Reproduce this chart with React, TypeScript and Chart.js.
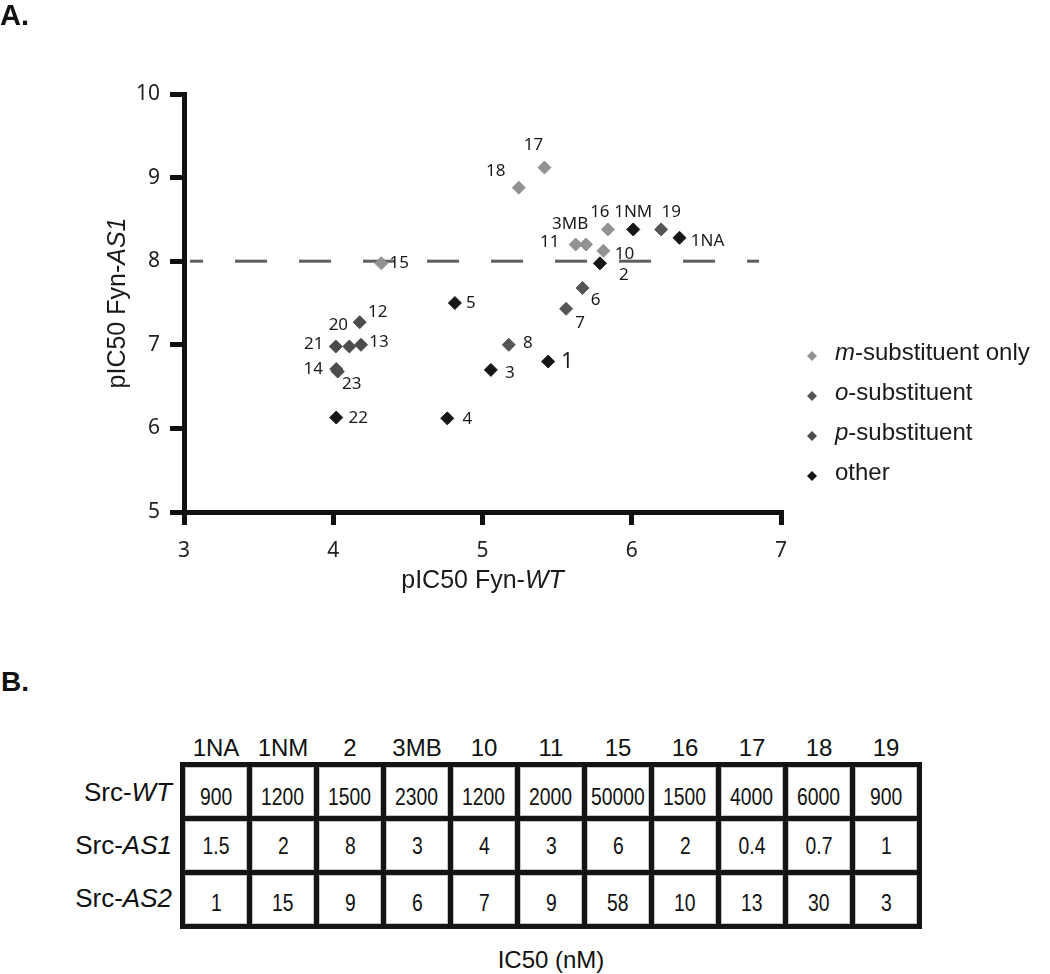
import React, { useEffect, useRef } from "react";
import { Chart, registerables } from "chart.js";

Chart.register(...registerables);

// ---- Data ----
const mLabels = ["17", "18", "16", "11", "3MB", "10", "15"];
const mX = [5.415, 5.243, 5.84, 5.624, 5.694, 5.81, 4.322];
const mY = [9.12, 8.88, 8.38, 8.2, 8.2, 8.125, 7.975];

const oLabels = ["19", "6", "7", "8"];
const oX = [6.197, 5.67, 5.56, 5.176];
const oY = [8.38, 7.68, 7.43, 7.0];

const pLabels = ["12", "20", "21", "13", "14", "23"];
const pX = [4.177, 4.108, 4.017, 4.186, 4.02, 4.03];
const pY = [7.27, 6.98, 6.98, 7.0, 6.71, 6.68];

const otherLabels = ["1NM", "1NA", "2", "5", "1", "3", "4", "22"];
const otherX = [6.01, 6.32, 5.787, 4.815, 5.44, 5.056, 4.764, 4.02];
const otherY = [8.38, 8.28, 7.975, 7.5, 6.8, 6.7, 6.12, 6.13];

const cutoffX = [3.04, 6.853];
const cutoffY = [8, 8];

const xTicks = [3, 4, 5, 6, 7];
const yTicks = [5, 6, 7, 8, 9, 10];

const tableCompounds = ["1NA", "1NM", "2", "3MB", "10", "11", "15", "16", "17", "18", "19"];
const srcWT = ["900", "1200", "1500", "2300", "1200", "2000", "50000", "1500", "4000", "6000", "900"];
const srcAS1 = ["1.5", "2", "8", "3", "4", "3", "6", "2", "0.4", "0.7", "1"];
const srcAS2 = ["1", "15", "9", "6", "7", "9", "58", "10", "13", "30", "3"];

// ---- Styling ----
const COLORS = { m: "#929292", o: "#555555", p: "#4c4c4c", other: "#161616" };
const SANS = '"Liberation Sans", Arial, sans-serif';
const HUM = '"Noto Sans", "Open Sans", sans-serif';

// label offsets (pixels, label centre relative to point)
const labelOffsets: Record<string, [number, number]> = {
  "17": [-11, -22], "18": [-23, -16], "16": [-8, -17], "1NM": [0, -17], "19": [10, -17],
  "1NA": [28, 3], "3MB": [-16, -20], "11": [-26, -2], "10": [21, 3], "2": [24, 12],
  "6": [13, 12], "7": [14, 14], "5": [16, 0], "8": [19, -2], "1": [19, 0], "3": [19, 3],
  "4": [20, 1], "12": [18, -10], "20": [-11, -21], "21": [-22, -2], "13": [18, -3],
  "14": [-23, 0], "23": [14, 13], "22": [22, 1], "15": [18, 0],
};

type Run = { text: string; italic?: boolean };

function drawRuns(ctx: CanvasRenderingContext2D, runs: Run[], x: number, y: number, size: number, align: "center" | "left") {
  const fontFor = (r: Run) => `${r.italic ? "italic " : ""}${size}px ${SANS}`;
  const widths = runs.map((r) => {
    ctx.font = fontFor(r);
    return ctx.measureText(r.text).width;
  });
  const total = widths.reduce((a, b) => a + b, 0);
  let cx = align === "center" ? x - total / 2 : x;
  ctx.textAlign = "left";
  runs.forEach((r, i) => {
    ctx.font = fontFor(r);
    ctx.fillText(r.text, cx, y);
    cx += widths[i];
  });
}

function diamond(ctx: CanvasRenderingContext2D, x: number, y: number, r: number, color: string) {
  ctx.beginPath();
  ctx.moveTo(x, y - r);
  ctx.lineTo(x + r, y);
  ctx.lineTo(x, y + r);
  ctx.lineTo(x - r, y);
  ctx.closePath();
  ctx.fillStyle = color;
  ctx.fill();
}

const labelPlugin = {
  id: "pointNames",
  afterDatasetsDraw(chart: any) {
    const ctx: CanvasRenderingContext2D = chart.ctx;
    ctx.save();
    ctx.textAlign = "center";
    ctx.textBaseline = "middle";
    chart.data.datasets.forEach((ds: any, i: number) => {
      if (!ds.pointNames) return;
      const meta = chart.getDatasetMeta(i);
      meta.data.forEach((el: any, j: number) => {
        const name = ds.pointNames[j];
        const off = labelOffsets[name] || [16, 0];
        ctx.font = name === "1" ? `21px ${HUM}` : `17px ${HUM}`;
        ctx.fillStyle = "#1a1a1a";
        ctx.fillText(name, el.x + off[0], el.y + off[1]);
      });
    });
    ctx.restore();
  },
};

const decorPlugin = {
  id: "decor",
  afterDraw(chart: any) {
    const ctx: CanvasRenderingContext2D = chart.ctx;
    const area = chart.chartArea;
    ctx.save();
    ctx.fillStyle = "#1a1a1a";
    ctx.textBaseline = "middle";
    // x title
    drawRuns(ctx, [{ text: "pIC50 Fyn-" }, { text: "WT", italic: true }], (area.left + area.right) / 2, 581, 25, "center");
    // y title
    ctx.save();
    ctx.translate(118, (area.top + area.bottom) / 2);
    ctx.rotate(-Math.PI / 2);
    drawRuns(ctx, [{ text: "pIC50 Fyn-" }, { text: "AS1", italic: true }], 0, 0, 25, "center");
    ctx.restore();
    // legend
    const items: { runs: Run[]; color: string }[] = [
      { runs: [{ text: "m", italic: true }, { text: "-substituent only" }], color: COLORS.m },
      { runs: [{ text: "o", italic: true }, { text: "-substituent" }], color: COLORS.o },
      { runs: [{ text: "p", italic: true }, { text: "-substituent" }], color: COLORS.p },
      { runs: [{ text: "other" }], color: COLORS.other },
    ];
    ctx.textBaseline = "alphabetic";
    items.forEach((it, i) => {
      const base = 360 + i * 40;
      diamond(ctx, 812, base - 4, 5, it.color);
      ctx.fillStyle = "#1a1a1a";
      drawRuns(ctx, it.runs, 835, base, 24, "left");
    });
    ctx.restore();
  },
};

function pts(xs: number[], ys: number[]) {
  return xs.map((x, i) => ({ x, y: ys[i] }));
}

function scatterSet(label: string, names: string[], xs: number[], ys: number[], color: string) {
  return {
    type: "scatter",
    label,
    data: pts(xs, ys),
    pointNames: names,
    pointStyle: "rectRot",
    pointRadius: 6.5,
    pointBackgroundColor: color,
    pointBorderColor: color,
    pointBorderWidth: 1,
    backgroundColor: color,
    borderColor: color,
    order: 0,
  };
}

function ChartPanel() {
  const ref = useRef<HTMLCanvasElement | null>(null);
  useEffect(() => {
    if (!ref.current) return;
    const tickFont = { family: HUM, size: 21 };
    const chart = new Chart(ref.current, {
      type: "scatter",
      data: {
        datasets: [
          {
            type: "line",
            label: "cutoff",
            data: pts(cutoffX, cutoffY),
            borderColor: "#5e5e5e",
            borderWidth: 3,
            borderDash: [32, 32],
            borderDashOffset: 19,
            pointRadius: 0,
            fill: false,
            order: 10,
          } as any,
          scatterSet("m-substituent only", mLabels, mX, mY, COLORS.m) as any,
          scatterSet("o-substituent", oLabels, oX, oY, COLORS.o) as any,
          scatterSet("p-substituent", pLabels, pX, pY, COLORS.p) as any,
          scatterSet("other", otherLabels, otherX, otherY, COLORS.other) as any,
        ],
      },
      options: {
        responsive: false,
        animation: false,
        events: [],
        layout: { padding: { left: 0, top: 94, right: 269, bottom: 38 } },
        plugins: { legend: { display: false }, tooltip: { enabled: false } },
        scales: {
          x: {
            type: "linear",
            min: 3,
            max: 7,
            afterFit: (s: any) => {
              s.height = 70;
            },
            afterBuildTicks: (s: any) => {
              s.ticks = xTicks.map((v) => ({ value: v }));
            },
            grid: {
              display: true,
              drawOnChartArea: false,
              drawTicks: true,
              tickLength: 13,
              tickWidth: 5,
              lineWidth: 5,
              color: "#111",
              tickColor: "#111",
            },
            border: { display: true, width: 5, color: "#111" },
            ticks: { padding: 13, font: tickFont, color: "#222", maxRotation: 0 },
          },
          y: {
            type: "linear",
            min: 5,
            max: 10,
            afterFit: (s: any) => {
              s.width = 184;
            },
            afterBuildTicks: (s: any) => {
              s.ticks = yTicks.map((v) => ({ value: v }));
            },
            grid: {
              display: true,
              drawOnChartArea: false,
              drawTicks: true,
              tickLength: 14,
              tickWidth: 5,
              lineWidth: 5,
              color: "#111",
              tickColor: "#111",
            },
            border: { display: true, width: 5, color: "#111" },
            ticks: { padding: 10, font: tickFont, color: "#222" },
          },
        },
      } as any,
      plugins: [labelPlugin, decorPlugin],
    });
    return () => chart.destroy();
  }, []);
  return (
    <canvas
      ref={ref}
      width={1050}
      height={620}
      style={{ position: "absolute", left: 0, top: 0, width: 1050, height: 620 }}
    />
  );
}

const CELL_W = 62;
const GAP = 5;

function IC50Table() {
  const rows: { label: string; italic: string; values: string[]; shift: number }[] = [
    { label: "Src-", italic: "WT", values: srcWT, shift: 6 },
    { label: "Src-", italic: "AS1", values: srcAS1, shift: 1 },
    { label: "Src-", italic: "AS2", values: srcAS2, shift: 4 },
  ];
  const rowTops = [766, 819, 872];
  return (
    <>
      {tableCompounds.map((c, i) => (
        <div
          key={"h" + i}
          style={{
            position: "absolute",
            left: 180 + GAP + i * (CELL_W + GAP),
            width: CELL_W,
            top: 736,
            height: 24,
            lineHeight: "24px",
            textAlign: "center",
            fontFamily: SANS,
            fontSize: 24,
            color: "#111",
          }}
        >
          {c}
        </div>
      ))}
      {rows.map((r, i) => (
        <div
          key={"r" + i}
          style={{
            position: "absolute",
            right: 1050 - 172,
            top: rowTops[i] + 24 - 11,
            height: 26,
            lineHeight: "26px",
            textAlign: "right",
            fontFamily: SANS,
            fontSize: 26,
            color: "#111",
            whiteSpace: "nowrap",
          }}
        >
          {r.label}
          <i>{r.italic}</i>
        </div>
      ))}
      <div
        style={{
          position: "absolute",
          left: 180,
          top: 762,
          display: "grid",
          gridTemplateColumns: `repeat(11, ${CELL_W}px)`,
          gridAutoRows: "49px",
          gap: GAP,
          padding: GAP,
          background: "#141414",
        }}
      >
        {rows.map((r, i) =>
          r.values.map((v, j) => (
            <div
              key={i + "-" + j}
              style={{
                background: "#fff",
                border: "1px solid #c4c4c4",
                boxSizing: "border-box",
                display: "flex",
                alignItems: "center",
                justifyContent: "center",
                fontFamily: SANS,
                fontSize: 23,
                color: "#111",
                overflow: "hidden",
              }}
            >
              <span
                style={{
                  display: "inline-block",
                  position: "relative",
                  top: r.shift,
                  transform: "scaleX(0.84)",
                  whiteSpace: "nowrap",
                }}
              >
                {v}
              </span>
            </div>
          ))
        )}
      </div>
      <div
        style={{
          position: "absolute",
          left: 451,
          width: 200,
          top: 947,
          height: 26,
          lineHeight: "26px",
          textAlign: "center",
          fontFamily: SANS,
          fontSize: 24,
          color: "#111",
        }}
      >
        IC50 (nM)
      </div>
    </>
  );
}

export default function App() {
  return (
    <div
      style={{
        position: "absolute",
        left: 0,
        top: 0,
        width: 1050,
        height: 974,
        background: "#fff",
        overflow: "hidden",
      }}
    >
      <ChartPanel />
      <div
        style={{
          position: "absolute",
          left: 0,
          top: 1,
          fontFamily: SANS,
          fontWeight: 700,
          fontSize: 29,
          lineHeight: "29px",
          color: "#111",
        }}
      >
        A.
      </div>
      <div
        style={{
          position: "absolute",
          left: 1,
          top: 668,
          fontFamily: SANS,
          fontWeight: 700,
          fontSize: 28,
          lineHeight: "28px",
          color: "#111",
        }}
      >
        B.
      </div>
      <IC50Table />
    </div>
  );
}
